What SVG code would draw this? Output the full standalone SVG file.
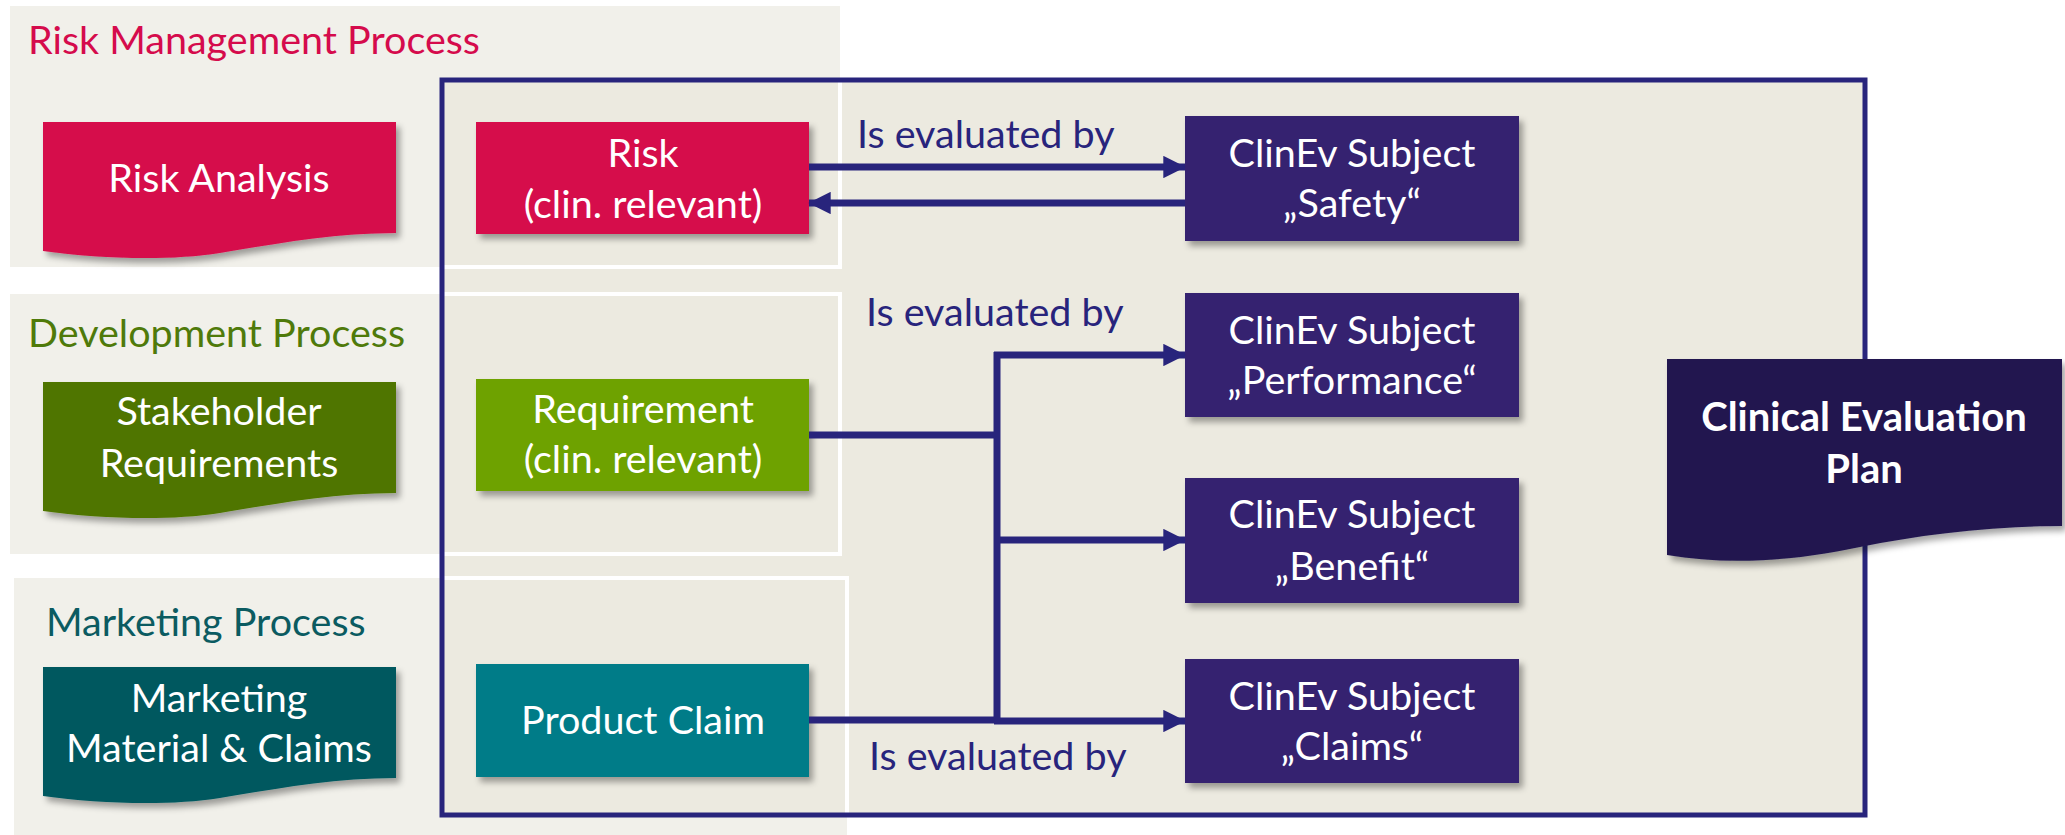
<svg xmlns="http://www.w3.org/2000/svg" width="2065" height="835" viewBox="0 0 2065 835">
<style>
.t{font-family:Lato,"Open Sans","Liberation Sans",sans-serif;font-size:39.5px}
.w{fill:#ffffff;text-anchor:middle}
.lbl{fill:#28247C}
.conn{stroke:#28247C;stroke-width:7;fill:none}
.panel{fill:#F1F0EA}
.outline{fill:none;stroke:#ffffff;stroke-width:4}
.subj{fill:#34206F}
.cep{fill:#ffffff;text-anchor:middle;font-family:Lato,"Open Sans","Liberation Sans",sans-serif;font-weight:bold;font-size:40px}
</style>
<defs>
<filter id="sh" x="-10%" y="-10%" width="130%" height="140%">
<feDropShadow dx="4" dy="5" stdDeviation="3" flood-color="#000" flood-opacity="0.35"/>
</filter>
<path id="doc" d="M0,0 H353 V111 C287,111 227,123 177,131 C127,139 57,137 0,129 Z"/>
<marker id="ah" markerWidth="3.2" markerHeight="3.2" refX="3.1" refY="1.6" orient="auto" markerUnits="strokeWidth">
<path d="M0,0 L3.2,1.6 L0,3.2 Z" fill="#28247C"/>
</marker>
<clipPath id="frameClip"><rect x="444" y="82" width="1419" height="731"/></clipPath>
</defs>
<rect width="2065" height="835" fill="#ffffff"/>
<g id="panels">
<rect class="panel" x="10" y="6" width="830" height="261"/>
<rect class="panel" x="10" y="294" width="830" height="260"/>
<rect class="panel" x="14" y="578" width="833" height="260"/>
</g>
<g id="frame">
<rect x="442" y="80" width="1423" height="735" fill="#ECEAE0"/>
<g clip-path="url(#frameClip)">
<rect class="outline" x="10" y="6" width="830" height="261"/>
<rect class="outline" x="10" y="294" width="830" height="260"/>
<rect class="outline" x="14" y="578" width="833" height="260"/>
</g>
<rect x="442" y="80" width="1423" height="735" fill="none" stroke="#28247C" stroke-width="5"/>
</g>
<g id="titles" class="t">
<text x="28" y="54" fill="#D50B4C">Risk Management Process</text>
<text x="28" y="347" fill="#4F7A0A">Development Process</text>
<text x="46" y="636" fill="#0B5B61">Marketing Process</text>
</g>
<g id="risk-analysis">
<use href="#doc" transform="translate(43,122)" fill="#D60B4B" filter="url(#sh)"/>
<text class="t w" x="219" y="192">Risk Analysis</text>
</g>
<g id="stakeholder-requirements">
<use href="#doc" transform="translate(43,382)" fill="#4F7500" filter="url(#sh)"/>
<text class="t w" x="219" y="425">Stakeholder</text>
<text class="t w" x="219" y="477">Requirements</text>
</g>
<g id="marketing-material">
<use href="#doc" transform="translate(43,667)" fill="#02585F" filter="url(#sh)"/>
<text class="t w" x="219" y="712">Marketing</text>
<text class="t w" x="219" y="762">Material &amp; Claims</text>
</g>
<g id="risk">
<rect x="476" y="122" width="333" height="112" fill="#D60B4B" filter="url(#sh)"/>
<text class="t w" x="643" y="167">Risk</text>
<text class="t w" x="643" y="218">(clin. relevant)</text>
</g>
<g id="requirement">
<rect x="476" y="379" width="333" height="112" fill="#6EA200" filter="url(#sh)"/>
<text class="t w" x="643" y="423">Requirement</text>
<text class="t w" x="643" y="473">(clin. relevant)</text>
</g>
<g id="product-claim">
<rect x="476" y="664" width="333" height="113" fill="#027C88" filter="url(#sh)"/>
<text class="t w" x="643" y="734">Product Claim</text>
</g>
<g id="subject-safety">
<rect class="subj" x="1185" y="116" width="334" height="125" filter="url(#sh)"/>
<text class="t w" x="1352" y="167">ClinEv Subject</text>
<text class="t w" x="1352" y="217">„Safety“</text>
</g>
<g id="subject-performance">
<rect class="subj" x="1185" y="293" width="334" height="124" filter="url(#sh)"/>
<text class="t w" x="1352" y="344">ClinEv Subject</text>
<text class="t w" x="1352" y="394">„Performance“</text>
</g>
<g id="subject-benefit">
<rect class="subj" x="1185" y="478" width="334" height="125" filter="url(#sh)"/>
<text class="t w" x="1352" y="528">ClinEv Subject</text>
<text class="t w" x="1352" y="580">„Benefit“</text>
</g>
<g id="subject-claims">
<rect class="subj" x="1185" y="659" width="334" height="124" filter="url(#sh)"/>
<text class="t w" x="1352" y="710">ClinEv Subject</text>
<text class="t w" x="1352" y="760">„Claims“</text>
</g>
<g id="connectors">
<line class="conn" x1="809" y1="167" x2="1185" y2="167" marker-end="url(#ah)"/>
<line class="conn" x1="1185" y1="203" x2="809" y2="203" marker-end="url(#ah)"/>
<polyline class="conn" points="809,435 997,435"/>
<polyline class="conn" points="809,720 997,720"/>
<line class="conn" x1="997" y1="352" x2="997" y2="723"/>
<line class="conn" x1="994" y1="355" x2="1185" y2="355" marker-end="url(#ah)"/>
<line class="conn" x1="994" y1="540" x2="1185" y2="540" marker-end="url(#ah)"/>
<line class="conn" x1="994" y1="721" x2="1185" y2="721" marker-end="url(#ah)"/>
</g>
<g id="labels" class="t lbl">
<text x="857" y="148">Is evaluated by</text>
<text x="866" y="326">Is evaluated by</text>
<text x="869" y="770">Is evaluated by</text>
</g>
<g id="clinical-evaluation-plan">
<path d="M1667,359 H2062 V526 C1990,526 1920,535 1860,547 C1800,560 1730,566 1667,555 Z" fill="#21184F" filter="url(#sh)"/>
<text class="cep" x="1864" y="431">Clinical Evaluation</text>
<text class="cep" x="1864" y="483">Plan</text>
</g>
</svg>
